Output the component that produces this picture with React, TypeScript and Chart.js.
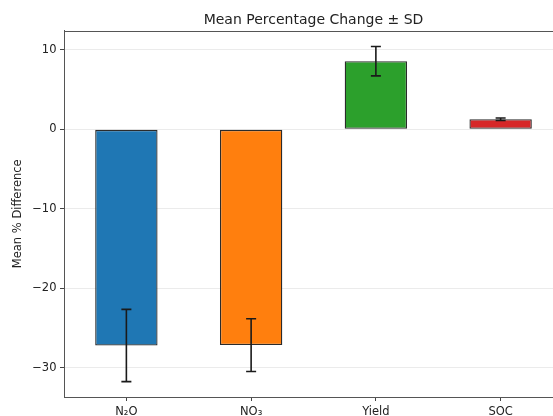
import React, { useEffect, useRef } from "react";
import { Chart, registerables } from "chart.js";

Chart.register(...registerables);

const categories = ["N₂O", "NO₃", "Yield", "SOC"];
const meanValues = [-27.2, -27.15, 8.58, 1.27];
const sdValues = [4.55, 3.32, 1.85, 0.16];
const barColors = ["#1f77b4", "#ff7f0e", "#2ca02c", "#d62728"];
const yTicks = [-30, -20, -10, 0, 10];
const yMin = -33.68;
const yMax = 12.44;
const chartTitle = "Mean Percentage Change ± SD";

const FONT = "'DejaVu Sans', sans-serif";

const errorBarPlugin = {
  id: "errorBars",
  afterDatasetsDraw(chart: any) {
    const meta = chart.getDatasetMeta(0);
    const y = chart.scales.y;
    const ctx = chart.ctx;
    ctx.save();
    ctx.strokeStyle = "#1a1a1a";
    ctx.lineWidth = 1.6;
    meta.data.forEach((bar: any, i: number) => {
      const x = bar.x;
      const top = y.getPixelForValue(meanValues[i] + sdValues[i]);
      const bot = y.getPixelForValue(meanValues[i] - sdValues[i]);
      const cap = 5;
      ctx.beginPath();
      ctx.moveTo(x, top);
      ctx.lineTo(x, bot);
      ctx.moveTo(x - cap, top);
      ctx.lineTo(x + cap, top);
      ctx.moveTo(x - cap, bot);
      ctx.lineTo(x + cap, bot);
      ctx.stroke();
    });
    ctx.restore();
  },
};

const framePlugin = {
  id: "frameTop",
  afterDraw(chart: any) {
    const { ctx, chartArea } = chart;
    ctx.save();
    ctx.strokeStyle = "#555";
    ctx.lineWidth = 1;
    ctx.beginPath();
    const t = Math.round(chartArea.top) + 0.5;
    ctx.moveTo(chartArea.left, t);
    ctx.lineTo(chartArea.right, t);
    ctx.stroke();
    ctx.fillStyle = "#222";
    ctx.font = "14px " + FONT;
    ctx.textAlign = "center";
    ctx.textBaseline = "middle";
    ctx.fillText(chartTitle, (chartArea.left + chartArea.right) / 2, 20);
    ctx.restore();
  },
};

export default function App() {
  const ref = useRef<HTMLCanvasElement>(null);
  useEffect(() => {
    if (!ref.current) return;
    const chart = new Chart(ref.current, {
      type: "bar",
      data: {
        labels: categories,
        datasets: [
          {
            data: meanValues,
            backgroundColor: barColors,
            borderColor: "#2b2b2b",
            borderWidth: 1.3,
            borderSkipped: false,
            barPercentage: 0.5,
            categoryPercentage: 1,
          },
        ],
      },
      options: {
        responsive: false,
        animation: false,
        devicePixelRatio: 1,
        layout: { padding: { left: 0, right: 37, top: 30.5, bottom: 0 } },
        plugins: {
          legend: { display: false },
          tooltip: { enabled: false },
          title: { display: false },
        },
        scales: {
          x: {
            grid: {
              offset: false,
              drawOnChartArea: false,
              drawTicks: true,
              tickLength: 4,
              tickColor: "#444",
            },
            border: { display: true, color: "#555", width: 1 },
            ticks: {
              color: "#222",
              padding: 4,
              font: { family: FONT, size: 11.5 },
              maxRotation: 0,
            },
            afterFit(scale: any) {
              scale.height = 43;
            },
          },
          y: {
            min: yMin,
            max: yMax,
            afterBuildTicks(scale: any) {
              scale.ticks = yTicks.map((v) => ({ value: v }));
            },
            grid: {
              color: "#ebebeb",
              tickColor: "#444",
              tickLength: 4,
              lineWidth: 1,
            },
            border: { display: true, color: "#555", width: 1 },
            ticks: {
              color: "#222",
              padding: 3.5,
              font: { family: FONT, size: 11.5 },
              callback: (v: any) =>
                Number(v) < 0 ? "\u2212" + Math.abs(Number(v)) : String(v),
            },
            title: {
              display: true,
              text: "Mean % Difference",
              color: "#222",
              font: { family: FONT, size: 11.5 },
              padding: { top: 11, bottom: 0 },
            },
            afterFit(scale: any) {
              scale.width = 64;
            },
          },
        },
      },
      plugins: [errorBarPlugin, framePlugin],
    });
    return () => chart.destroy();
  }, []);
  return (
    <div
      style={{
        position: "fixed",
        left: 0,
        top: 0,
        width: 553,
        height: 416,
        overflow: "hidden",
        background: "#fff",
      }}
    >
      <canvas
        ref={ref}
        width={600}
        height={440}
        style={{ display: "block", width: 600, height: 440 }}
      />
    </div>
  );
}
